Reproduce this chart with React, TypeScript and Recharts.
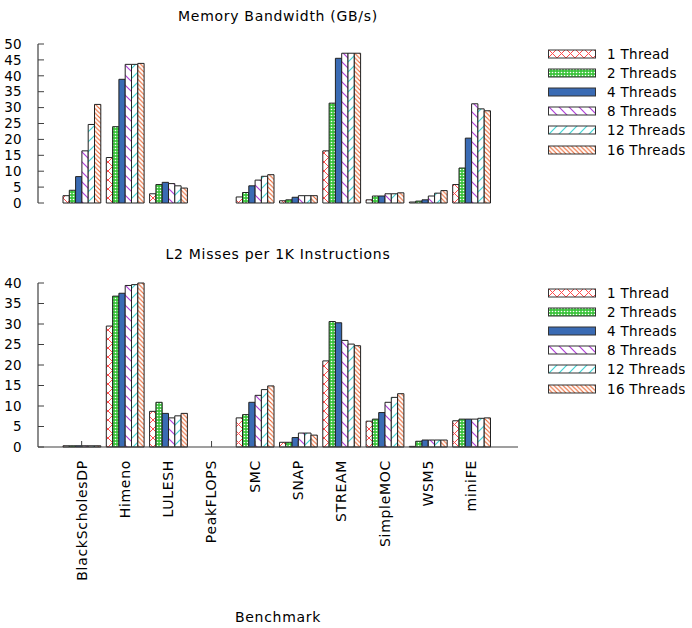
import React from 'react';
import { BarChart, Bar, XAxis, YAxis, Label } from 'recharts';

const benchmarks = ['BlackScholesDP', 'Himeno', 'LULESH', 'PeakFLOPS', 'SMC', 'SNAP', 'STREAM', 'SimpleMOC', 'WSM5', 'miniFE'];
const threadLabels = ['1 Thread', '2 Threads', '4 Threads', '8 Threads', '12 Threads', '16 Threads'];
const seriesKeys = ['t1', 't2', 't4', 't8', 't12', 't16'];

// Memory bandwidth, GB/s
const bw1 = [2.3, 14.3, 2.9, 0, 1.9, 0.7, 16.4, 1.0, 0.3, 5.8];
const bw2 = [4.0, 24.0, 5.8, 0, 3.3, 1.0, 31.4, 2.2, 0.6, 11.0];
const bw4 = [8.3, 38.9, 6.5, 0, 5.4, 1.8, 45.5, 2.2, 1.0, 20.4];
const bw8 = [16.4, 43.6, 6.1, 0, 7.2, 2.3, 47.1, 2.9, 2.2, 31.2];
const bw12 = [24.7, 43.6, 5.4, 0, 8.4, 2.3, 47.1, 2.9, 3.1, 29.6];
const bw16 = [31.0, 43.9, 4.7, 0, 8.9, 2.3, 47.1, 3.2, 3.9, 29.0];
const bwTicks = [0, 5, 10, 15, 20, 25, 30, 35, 40, 45, 50];

// L2 misses per 1K instructions
const l2m1 = [0.3, 29.5, 8.7, 0, 7.1, 1.15, 21.0, 6.3, 0.15, 6.4];
const l2m2 = [0.3, 36.8, 10.9, 0, 7.9, 1.15, 30.6, 6.8, 1.4, 6.8];
const l2m4 = [0.3, 37.5, 8.2, 0, 10.9, 2.3, 30.3, 8.4, 1.7, 6.8];
const l2m8 = [0.3, 39.4, 7.1, 0, 12.6, 3.4, 26.0, 10.9, 1.7, 6.8];
const l2m12 = [0.3, 39.6, 7.6, 0, 14.0, 3.4, 25.1, 12.1, 1.7, 7.0];
const l2m16 = [0.3, 40.0, 8.2, 0, 14.9, 2.9, 24.7, 13.0, 1.7, 7.1];
const l2Ticks = [0, 5, 10, 15, 20, 25, 30, 35, 40];

const toRows = (cols: number[][]) =>
  benchmarks.map((name, i) => {
    const row: Record<string, string | number> = { name };
    seriesKeys.forEach((k, j) => (row[k] = cols[j][i]));
    return row;
  });

const bandwidthRows = toRows([bw1, bw2, bw4, bw8, bw12, bw16]);
const l2Rows = toRows([l2m1, l2m2, l2m4, l2m8, l2m12, l2m16]);

const FONT = '"DejaVu Sans", sans-serif';
const FRAME = '#404040';
const pad = { left: 22, right: 25 };

function Patterns({ prefix }: { prefix: string }) {
  return (
    <defs>
      <pattern id={`${prefix}-t1`} width={9} height={9} patternUnits="userSpaceOnUse">
        <rect width={9} height={9} fill="#fff" />
        <path d="M0,0 L9,9 M9,0 L0,9" stroke="#ff4d4d" strokeWidth={1} />
      </pattern>
      <pattern id={`${prefix}-t2`} width={3} height={3} patternUnits="userSpaceOnUse">
        <rect width={3} height={3} fill="#3cc43c" />
        <circle cx={1.5} cy={1.5} r={0.8} fill="#fff" />
      </pattern>
      <pattern id={`${prefix}-t4`} width={4} height={4} patternUnits="userSpaceOnUse">
        <rect width={4} height={4} fill="#3a6bb4" />
      </pattern>
      <pattern id={`${prefix}-t8`} width={10} height={10} patternUnits="userSpaceOnUse">
        <rect width={10} height={10} fill="#fff" />
        <path d="M0,0 L10,10 M-1,9 L1,11 M9,-1 L11,1" stroke="#b040d8" strokeWidth={1.2} />
      </pattern>
      <pattern id={`${prefix}-t12`} width={10} height={10} patternUnits="userSpaceOnUse">
        <rect width={10} height={10} fill="#fff" />
        <path d="M0,10 L10,0 M-1,1 L1,-1 M9,11 L11,9" stroke="#44d4d4" strokeWidth={1.2} />
      </pattern>
      <pattern id={`${prefix}-t16`} width={4.5} height={4.5} patternUnits="userSpaceOnUse">
        <rect width={4.5} height={4.5} fill="#fff" />
        <path d="M0,0 L4.5,4.5 M-1,3.5 L1,5.5 M3.5,-1 L5.5,1" stroke="#e8602a" strokeWidth={1.1} />
      </pattern>
    </defs>
  );
}

function CategoryTick({ x, y, payload }: any) {
  return (
    <text
      transform={`translate(${x},${y}) rotate(-90)`}
      textAnchor="end"
      dy="0.35em"
      fontSize={14}
      letterSpacing={0.7}
      fill="#000"
      fontFamily={FONT}
    >
      {payload.value}
    </text>
  );
}

function ThreadLegend({ prefix, top }: { prefix: string; top: number }) {
  return (
    <div style={{ position: 'absolute', left: 548, top, fontSize: 13.5, letterSpacing: 0.3 }}>
      {threadLabels.map((label, i) => (
        <div key={label} style={{ display: 'flex', alignItems: 'center', height: 19.2 }}>
          <svg width={49} height={10} style={{ marginRight: 10 }}>
            <rect x={0.5} y={1} width={47} height={8} fill={`url(#${prefix}-${seriesKeys[i]})`} stroke="#333" />
          </svg>
          <span style={{ whiteSpace: 'nowrap' }}>{label}</span>
        </div>
      ))}
    </div>
  );
}

function Title({ text, top }: { text: string; top: number }) {
  return (
    <div
      style={{
        position: 'absolute',
        left: 38,
        width: 480,
        top,
        textAlign: 'center',
        fontSize: 14,
        letterSpacing: 0.7,
        lineHeight: '18px',
      }}
    >
      {text}
    </div>
  );
}

const yTick = { fill: '#000', fontSize: 13.5, fontFamily: FONT, letterSpacing: 0.3 };

export default function App() {
  return (
    <div
      style={{
        position: 'absolute',
        left: 0,
        top: 0,
        width: 692,
        height: 628,
        background: '#fff',
        fontFamily: FONT,
        color: '#000',
      }}
    >
      <Title text="Memory Bandwidth (GB/s)" top={7} />
      <div style={{ position: 'absolute', left: 0, top: 0 }}>
        <BarChart width={692} height={215} data={bandwidthRows} margin={{ top: 44, right: 174, bottom: 12, left: 0 }} barSize={6.3} barGap={0}>
          <Patterns prefix="bw" />
          <XAxis dataKey="name" padding={pad} height={0} tick={false} tickLine={false} axisLine={{ stroke: FRAME, strokeWidth: 1.2 }} />
          <XAxis xAxisId="top" orientation="top" dataKey="name" padding={pad} height={0} tick={false} tickLine={false} axisLine={{ stroke: FRAME, strokeWidth: 1.2 }} />
          <YAxis
            width={38}
            domain={[0, 50]}
            ticks={bwTicks}
            interval={0}
            tickSize={-6}
            tickMargin={22}
            tick={yTick}
            tickLine={{ stroke: FRAME }}
            axisLine={{ stroke: FRAME, strokeWidth: 1.2 }}
          />
          <YAxis
            yAxisId="r"
            orientation="right"
            width={0}
            domain={[0, 50]}
            ticks={bwTicks}
            interval={0}
            tickSize={-6}
            tick={false}
            tickLine={{ stroke: FRAME }}
            axisLine={{ stroke: FRAME, strokeWidth: 1.2 }}
          />
          {seriesKeys.map((k) => (
            <Bar key={k} dataKey={k} fill={`url(#bw-${k})`} stroke="#222" strokeWidth={1} isAnimationActive={false} />
          ))}
        </BarChart>
      </div>
      <ThreadLegend prefix="bw" top={44} />

      <Title text="L2 Misses per 1K Instructions" top={245} />
      <div style={{ position: 'absolute', left: 0, top: 240 }}>
        <BarChart width={692} height={388} data={l2Rows} margin={{ top: 43, right: 174, bottom: 0, left: 0 }} barSize={6.3} barGap={0}>
          <Patterns prefix="l2" />
          <XAxis
            dataKey="name"
            padding={pad}
            height={181}
            interval={0}
            tickSize={-6}
            tickMargin={19}
            tick={<CategoryTick />}
            tickLine={{ stroke: FRAME }}
            axisLine={{ stroke: FRAME, strokeWidth: 1.2 }}
          >
            <Label value="Benchmark" position="insideBottom" offset={6} fontSize={14} letterSpacing={0.7} fill="#000" fontFamily={FONT} />
          </XAxis>
          <XAxis
            xAxisId="top"
            orientation="top"
            dataKey="name"
            padding={pad}
            height={0}
            interval={0}
            tickSize={-6}
            tick={false}
            tickLine={{ stroke: FRAME }}
            axisLine={{ stroke: FRAME, strokeWidth: 1.2 }}
          />
          <YAxis
            width={38}
            domain={[0, 40]}
            ticks={l2Ticks}
            interval={0}
            tickSize={-6}
            tickMargin={22}
            tick={yTick}
            tickLine={{ stroke: FRAME }}
            axisLine={{ stroke: FRAME, strokeWidth: 1.2 }}
          />
          <YAxis
            yAxisId="r"
            orientation="right"
            width={0}
            domain={[0, 40]}
            ticks={l2Ticks}
            interval={0}
            tickSize={-6}
            tick={false}
            tickLine={{ stroke: FRAME }}
            axisLine={{ stroke: FRAME, strokeWidth: 1.2 }}
          />
          {seriesKeys.map((k) => (
            <Bar key={k} dataKey={k} fill={`url(#l2-${k})`} stroke="#222" strokeWidth={1} isAnimationActive={false} />
          ))}
        </BarChart>
      </div>
      <ThreadLegend prefix="l2" top={283} />
    </div>
  );
}
